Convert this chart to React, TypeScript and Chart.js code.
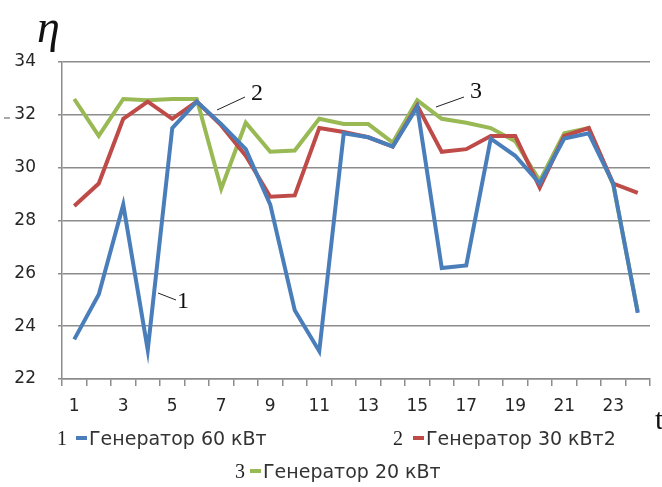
import React, { useEffect, useRef } from "react";
import { Chart, registerables } from "chart.js";

Chart.register(...registerables);

const hours = ["1","2","3","4","5","6","7","8","9","10","11","12","13","14","15","16","17","18","19","20","21","22","23","24"];
const gen60 = [23.5, 25.2, 28.6, 23.1, 31.5, 32.5, 31.65, 30.7, 28.6, 24.6, 23.05, 31.3, 31.15, 30.8, 32.3, 26.2, 26.3, 31.1, 30.45, 29.4, 31.1, 31.3, 29.4, 24.5];
const gen30 = [28.55, 29.4, 31.85, 32.5, 31.85, 32.5, 31.6, 30.45, 28.9, 28.95, 31.5, 31.35, 31.15, 30.8, 32.35, 30.6, 30.7, 31.2, 31.2, 29.25, 31.2, 31.5, 29.4, 29.05];
const gen20 = [32.6, 31.2, 32.6, 32.55, 32.6, 32.6, 29.2, 31.7, 30.6, 30.65, 31.85, 31.65, 31.65, 30.95, 32.55, 31.85, 31.7, 31.5, 31.0, 29.5, 31.3, 31.5, 29.35, 24.55];
const seriesNames = ["Генератор 60 кВт", "Генератор 30 кВт2", "Генератор 20 кВт"];
const colors = ["#4a7ebb", "#be4b48", "#98b954"];
const yMin = 22;
const yMax = 34;
const yStep = 2;

export default function App() {
  const ref = useRef<HTMLCanvasElement | null>(null);
  useEffect(() => {
    if (!ref.current) return;
    const font = { family: "'DejaVu Sans', sans-serif", size: 17 };
    const chart = new Chart(ref.current, {
      type: "line",
      data: {
        labels: hours,
        datasets: [gen60, gen30, gen20].map((d, i) => ({
          label: seriesNames[i],
          data: d,
          borderColor: colors[i],
          backgroundColor: colors[i],
          borderWidth: 4,
          pointRadius: 0,
          tension: 0,
          fill: false,
        })),
      },
      options: {
        animation: false,
        responsive: false,
        maintainAspectRatio: false,
        layout: { padding: { left: 0, top: 62, right: 12, bottom: 68 } },
        plugins: { legend: { display: false }, tooltip: { enabled: false } },
        scales: {
          x: {
            offset: true,
            grid: { offset: true, drawOnChartArea: false, tickLength: 7, color: "#8c8c8c", lineWidth: 1.5 },
            border: { color: "#8c8c8c", width: 1.5 },
            ticks: {
              autoSkip: false,
              maxRotation: 0,
              padding: 10,
              color: "#262626",
              font,
              callback: (v: any, i: number) => (i % 2 === 0 ? hours[i] : ""),
            },
            afterFit: (s: any) => { s.height = 40; },
          },
          y: {
            min: yMin,
            max: yMax,
            grid: { color: "#8c8c8c", lineWidth: 1.5, tickLength: 4 },
            border: { color: "#8c8c8c", width: 1.5 },
            ticks: { stepSize: yStep, padding: 22, color: "#262626", font },
            afterFit: (s: any) => { s.width = 62; },
          },
        },
      },
    });
    return () => chart.destroy();
  }, []);

  const serif = "'Liberation Serif', 'DejaVu Serif', serif";
  const num = (t: string, x: number, y: number) => (
    <div style={{ position: "absolute", left: x, top: y, fontFamily: serif, fontSize: 24, color: "#111", lineHeight: 1 }}>{t}</div>
  );
  const legendItem = (i: number, n: string, nx: number, mx: number, cy: number) => (
    <React.Fragment>
      <div style={{ position: "absolute", left: nx, top: cy - 12, fontFamily: serif, fontSize: 20, color: "#222", lineHeight: "24px" }}>{n}</div>
      <div style={{ position: "absolute", left: mx, top: cy - 2, width: 11, height: 4, background: colors[i] }} />
      <div style={{ position: "absolute", left: mx + 13, top: cy - 12, fontFamily: "'DejaVu Sans', sans-serif", fontSize: 19, color: "#333", lineHeight: "24px", whiteSpace: "nowrap" }}>{seriesNames[i]}</div>
    </React.Fragment>
  );

  return (
    <div style={{ position: "fixed", left: 0, top: 0, width: 662, height: 487, background: "#fff", overflow: "hidden" }}>
      <canvas ref={ref} width={662} height={487} style={{ position: "absolute", left: 0, top: 0 }} />
      <div style={{ position: "absolute", left: 37, top: 4, fontFamily: serif, fontStyle: "italic", fontSize: 46, color: "#111", lineHeight: 1 }}>η</div>
      <div style={{ position: "absolute", left: 655, top: 404, fontFamily: serif, fontSize: 30, color: "#111", lineHeight: 1 }}>t</div>
      {num("2", 251, 80)}
      {num("3", 470, 78)}
      {num("1", 177, 288)}
      <svg width={662} height={487} style={{ position: "absolute", left: 0, top: 0, pointerEvents: "none" }}>
        <line x1={217} y1={110} x2={245} y2={97} stroke="#222" strokeWidth={1} />
        <line x1={436} y1={107} x2={464} y2={97} stroke="#222" strokeWidth={1} />
        <line x1={158} y1={293} x2={176} y2={300} stroke="#222" strokeWidth={1} />
        <line x1={4} y1={118} x2={10} y2={118} stroke="#555" strokeWidth={1} />
      </svg>
      {legendItem(0, "1", 57, 76, 438)}
      {legendItem(1, "2", 393, 413, 438)}
      {legendItem(2, "3", 235, 250, 471)}
    </div>
  );
}
